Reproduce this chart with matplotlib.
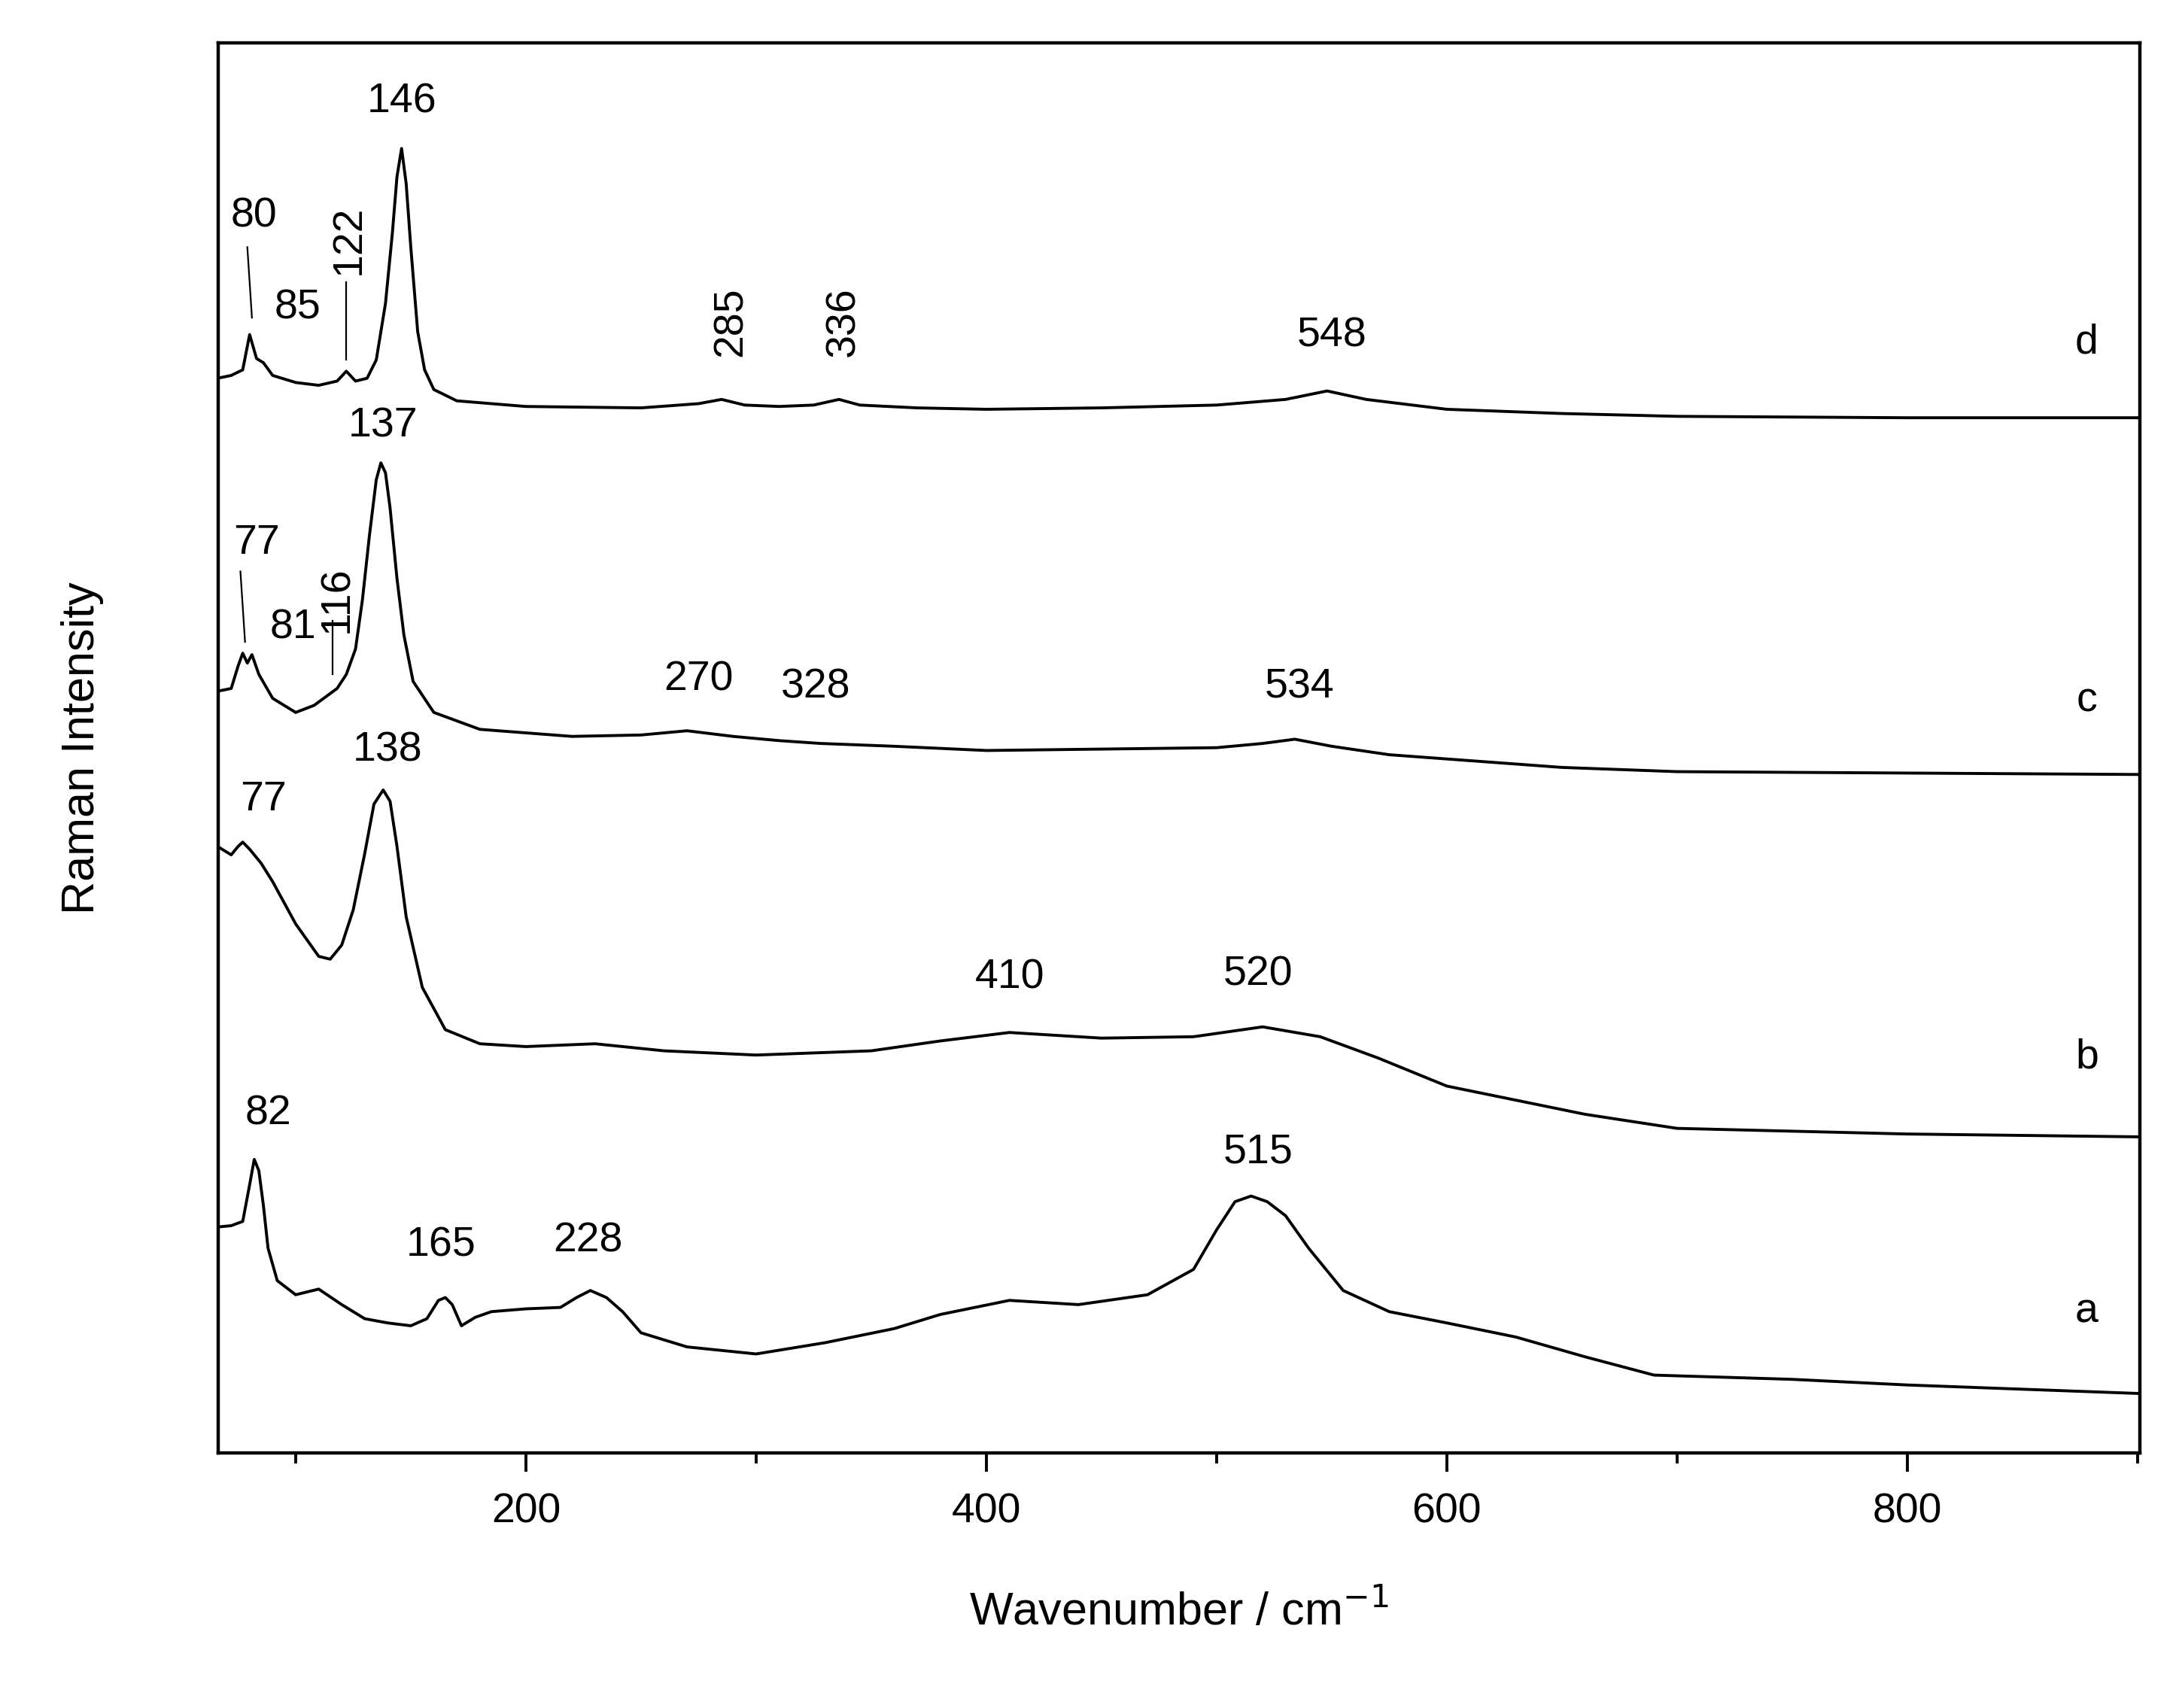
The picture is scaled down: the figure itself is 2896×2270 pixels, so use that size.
import matplotlib.pyplot as plt
from matplotlib.ticker import MultipleLocator

plt.rcParams['font.family'] = ['Liberation Sans', 'DejaVu Sans']

# curves, y in arbitrary offset units (top of axes = 1000)
xd = [66, 72, 77, 80, 83, 86, 90, 100, 110, 118, 122, 126, 131, 135, 139, 142, 144, 146, 148, 150, 153, 156, 160, 170, 200, 250, 275, 285, 295, 310, 325, 336, 345, 370, 400, 450, 500, 530, 548, 565, 600, 650, 700, 800, 900]
yd = [268, 266, 262, 237, 254, 257, 266, 271, 273, 270, 263, 270, 268, 255, 215, 165, 125, 105, 130, 175, 235, 262, 276, 284, 288, 289, 286, 283, 287, 288, 287, 283, 287, 289, 290, 289, 287, 283, 277, 283, 290, 293, 295, 296, 296]
xc = [66, 72, 75, 77, 79, 81, 84, 90, 100, 108, 113, 118, 122, 126, 129, 132, 135, 137, 139, 141, 144, 147, 151, 160, 180, 220, 250, 270, 290, 310, 328, 360, 400, 450, 500, 520, 534, 550, 575, 600, 650, 700, 800, 900]
yc = [490, 488, 472, 463, 470, 464, 478, 495, 505, 500, 494, 488, 478, 460, 425, 380, 340, 328, 335, 360, 410, 450, 483, 505, 517, 522, 521, 518, 522, 525, 527, 529, 532, 531, 530, 527, 524, 529, 535, 538, 544, 547, 548, 549]
xb = [66, 72, 75, 77, 80, 85, 90, 100, 110, 115, 120, 125, 130, 134, 138, 141, 144, 148, 155, 165, 180, 200, 230, 260, 300, 350, 380, 410, 450, 490, 520, 545, 570, 600, 630, 660, 700, 750, 800, 900]
yb = [600, 606, 600, 597, 602, 612, 625, 655, 678, 680, 670, 645, 605, 570, 560, 568, 600, 650, 700, 730, 740, 742, 740, 745, 748, 745, 738, 732, 736, 735, 728, 735, 750, 770, 780, 790, 800, 802, 804, 806]
xa = [66, 72, 77, 80, 82, 84, 86, 88, 92, 100, 110, 120, 130, 140, 150, 157, 162, 165, 168, 172, 178, 185, 200, 215, 222, 228, 235, 242, 250, 270, 300, 330, 360, 380, 410, 440, 470, 490, 500, 508, 515, 522, 530, 540, 555, 575, 600, 630, 660, 690, 750, 800, 850, 900]
ya = [870, 869, 866, 840, 822, 830, 855, 885, 908, 918, 914, 925, 935, 938, 940, 935, 922, 920, 925, 940, 934, 930, 928, 927, 920, 915, 920, 930, 945, 955, 960, 952, 942, 932, 922, 925, 918, 900, 872, 852, 848, 852, 862, 885, 915, 930, 938, 948, 962, 975, 978, 982, 985, 988]

curves = [(xa, ya, 'a', 930), (xb, yb, 'b', 750), (xc, yc, 'c', 497), (xd, yd, 'd', 243)]

# peak labels: text, x, height, rotation
peaks = [
    ('146', 146, 958, 0), ('80', 82, 877, 0), ('85', 101, 812, 0), ('122', 123, 860, 90),
    ('285', 289, 802, 90), ('336', 338, 802, 90), ('548', 550, 792, 0),
    ('137', 138, 728, 0), ('77', 83, 645, 0), ('81', 99, 585, 0), ('116', 118, 605, 90),
    ('270', 275, 548, 0), ('328', 326, 543, 0), ('534', 536, 543, 0),
    ('138', 140, 498, 0), ('77', 86, 463, 0), ('410', 410, 337, 0), ('520', 518, 339, 0),
    ('82', 88, 240, 0), ('165', 163, 147, 0), ('228', 227, 150, 0), ('515', 518, 213, 0),
]
leaders = [((79, 81), (855, 805)), ((122, 122), (830, 775)), ((76, 78), (625, 575)), ((116, 116), (590, 552))]

fig = plt.figure(figsize=(14.48, 11.35), dpi=200)
ax = fig.add_axes([0.1003, 0.1495, 0.8817, 0.8255])

for x, y, name, ly in curves:
    ax.plot(x, [1030 - v for v in y], color='black', lw=1.4)
    ax.text(878, 1030 - ly, name, fontsize=20, ha='center', va='center')

for t, x, h, rot in peaks:
    ax.text(x, h, t, fontsize=20, ha='center', va='center', rotation=rot)
for lx, lyy in leaders:
    ax.plot(lx, lyy, color='black', lw=0.8)

ax.set_xlim(66.5, 901)
ax.set_ylim(0, 1000)
ax.set_yticks([])
ax.xaxis.set_major_locator(MultipleLocator(200))
ax.xaxis.set_minor_locator(MultipleLocator(100))
ax.tick_params(axis='x', which='major', length=9, width=1.4, labelsize=20, pad=10)
ax.tick_params(axis='x', which='minor', length=5, width=1.4)
for s in ax.spines.values():
    s.set_linewidth(1.6)
ax.set_xlabel('Wavenumber / cm$^{-1}$', fontsize=22, labelpad=28)
ax.set_ylabel('Raman Intensity', fontsize=22, labelpad=55)

fig.savefig('out.png')
